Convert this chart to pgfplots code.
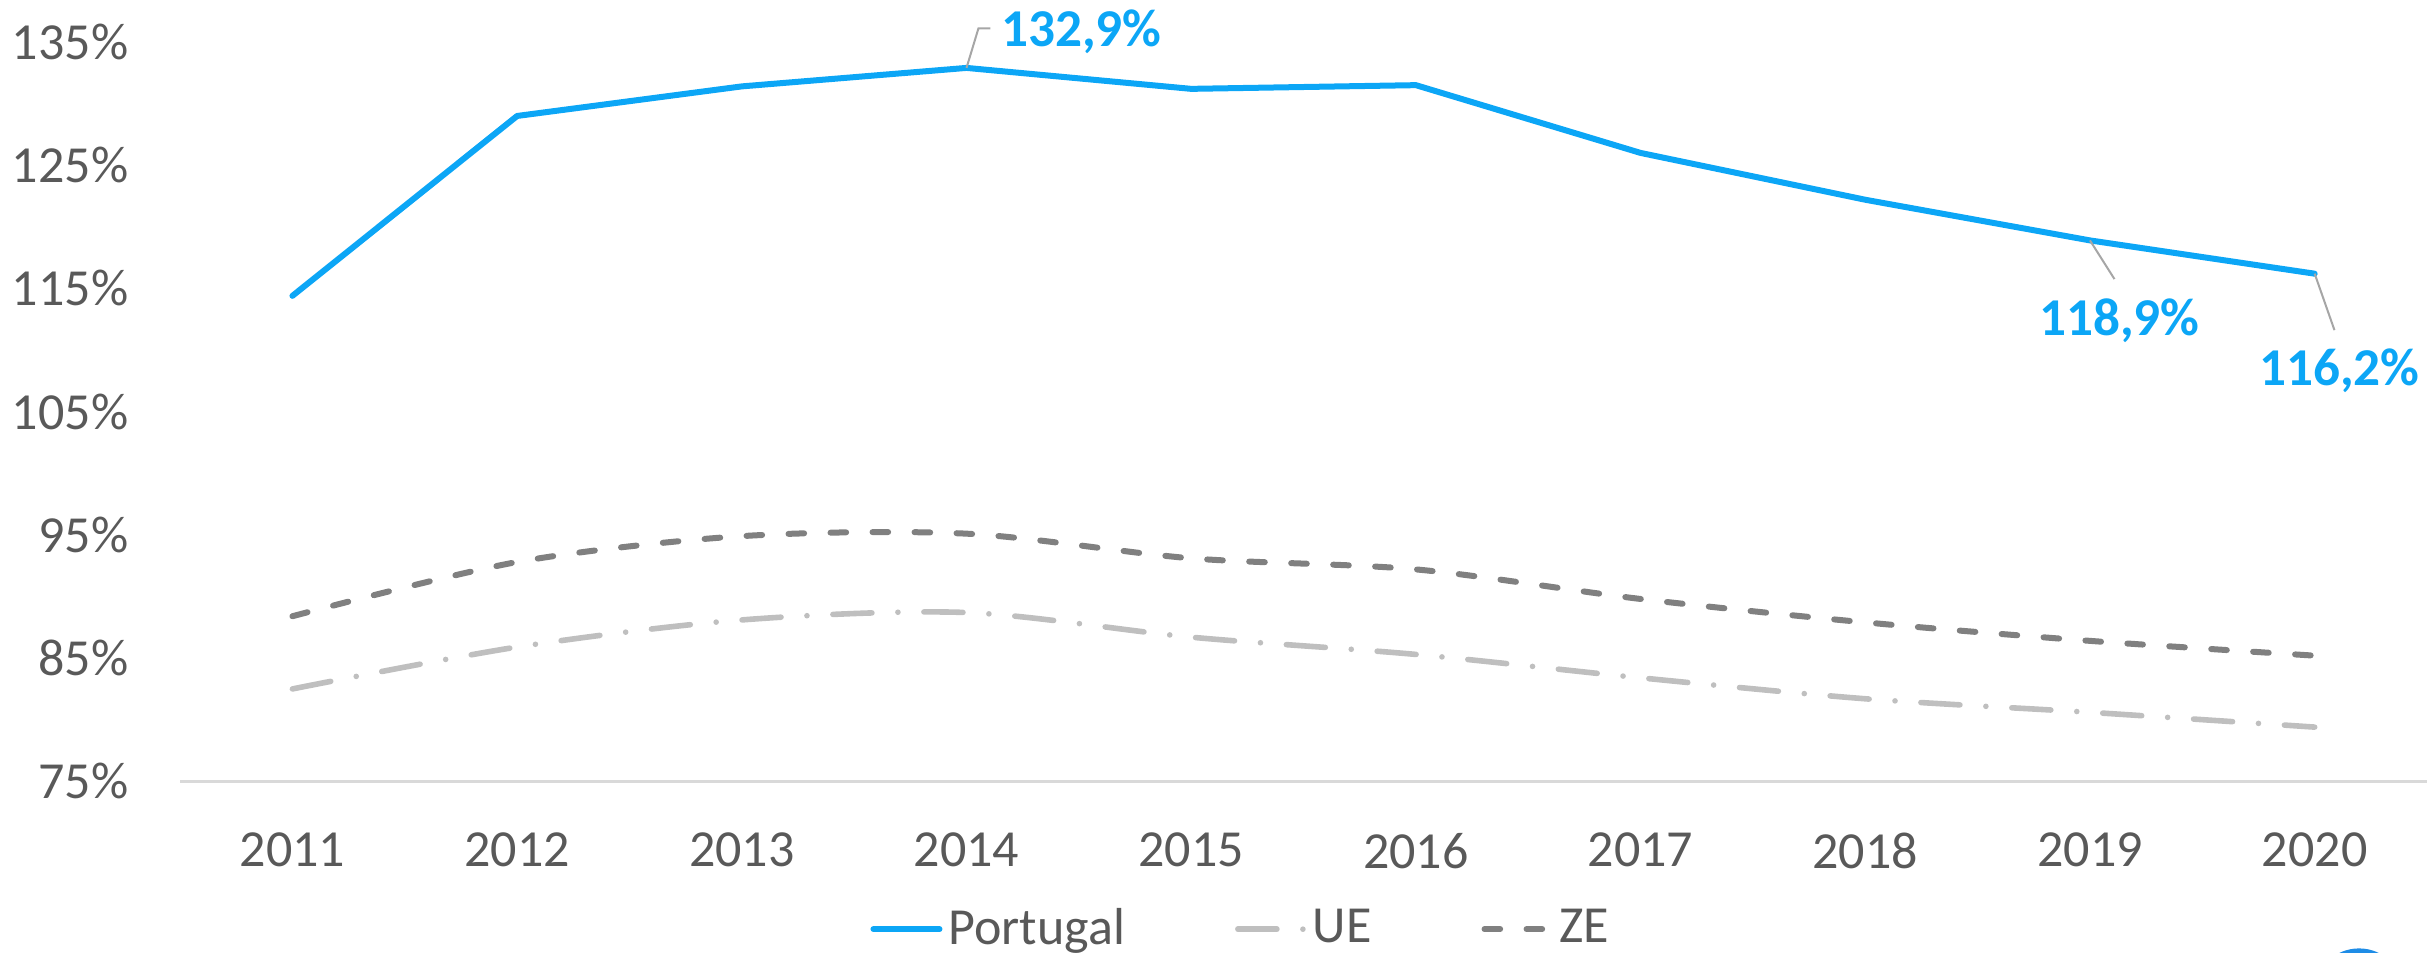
\documentclass[border=0pt]{standalone}
\usepackage{pgfplots}
\pgfplotsset{compat=1.18}
\usepackage{fontspec}
\setmainfont{Carlito}
\usetikzlibrary{calc}
\definecolor{ptblue}{RGB}{12,166,246}
\definecolor{uegray}{RGB}{191,191,191}
\definecolor{zegray}{RGB}{128,128,128}
\definecolor{txtgray}{RGB}{89,89,89}
\definecolor{axgray}{RGB}{217,217,217}
\definecolor{leadgray}{RGB}{166,166,166}
\definecolor{logoblue}{RGB}{30,140,230}
\begin{document}
\begin{tikzpicture}
\begin{axis}[
  name=ax,
  scale only axis,
  width=561.5pt, height=184.75pt,
  xmin=-0.5, xmax=9.5, ymin=75, ymax=135,
  axis x line*=bottom, axis y line*=left,
  y axis line style={draw=none},
  x axis line style={draw=axgray, line width=0.6pt},
  xtick={0,...,9},
  xticklabels={2011,2012,2013,2014,2015,2016,2017,2018,2019,2020},
  ytick={75,85,...,135},
  yticklabel={\pgfmathprintnumber{\tick}\%},
  /pgf/number format/assume math mode=true,
  major tick length=0pt,
  tick label style={font=\fontsize{13}{15}\selectfont, text=txtgray},
  yticklabel style={anchor=east, inner sep=0pt, xshift=-12.75pt},
  xticklabel style={anchor=north, inner sep=0pt, yshift=-12.75pt},
  clip=false,
  legend columns=3,
  legend style={draw=none, at={(0.473,-0.200)}, anchor=center,
    font=\fontsize{13}{15}\selectfont, text=txtgray, inner sep=0pt,
    nodes={inner sep=1.5pt},
    /tikz/every even column/.append style={column sep=26pt}},
  legend image code/.code={\draw[#1] (0pt,0pt) -- (16.5pt,0pt);},
]
\addplot[ptblue, line width=1.5pt, line cap=round, line join=round] coordinates {(0,114.4)(1,129.0)(2,131.4)(3,132.9)(4,131.2)(5,131.5)(6,126.0)(7,122.2)(8,118.9)(9,116.2)};
\addlegendentry{Portugal}
\addplot[uegray, line width=1.4pt, smooth, line cap=round, dash pattern=on 9.75pt off 6.5pt on 0pt off 6.5pt] coordinates {(0,82.5)(1,85.9)(2,88.1)(3,88.7)(4,86.7)(5,85.3)(6,83.4)(7,81.7)(8,80.6)(9,79.4)};
\addlegendentry{UE}
\addplot[zegray, line width=1.5pt, smooth, line cap=round, dash pattern=on 3.9pt off 6.6pt] coordinates {(0,88.4)(1,92.8)(2,94.9)(3,95.1)(4,93.1)(5,92.2)(6,89.8)(7,87.9)(8,86.4)(9,85.2)};
\addlegendentry{ZE}
\draw[leadgray, line width=0.5pt] (axis cs:3,132.9) -- (axis cs:3.053,136.1) -- (axis cs:3.106,136.1);
\node[anchor=base west, inner sep=0pt, text=ptblue, font=\fontsize{13.3}{15}\selectfont\bfseries] at (axis cs:3.151,134.6) {132,9\%};
\draw[leadgray, line width=0.5pt] (axis cs:8,118.9) -- (axis cs:8.109,115.76);
\node[anchor=base west, inner sep=0pt, text=ptblue, font=\fontsize{13.3}{15}\selectfont\bfseries] at (axis cs:7.770,111.2) {118,9\%};
\draw[leadgray, line width=0.5pt] (axis cs:9,116.2) -- (axis cs:9.088,111.62);
\node[anchor=base west, inner sep=0pt, text=ptblue, font=\fontsize{13.3}{15}\selectfont\bfseries] at (axis cs:8.749,107.15) {116,2\%};
\end{axis}
\fill[logoblue] ($(ax.south west)+(544.5pt,-53pt)$) circle (11.25pt);
\pgfresetboundingbox
\path ($(ax.south west)+(-45pt,-42.75pt)$) rectangle ($(ax.north east)+(1.25pt,10.5pt)$);
\end{tikzpicture}
\end{document}
